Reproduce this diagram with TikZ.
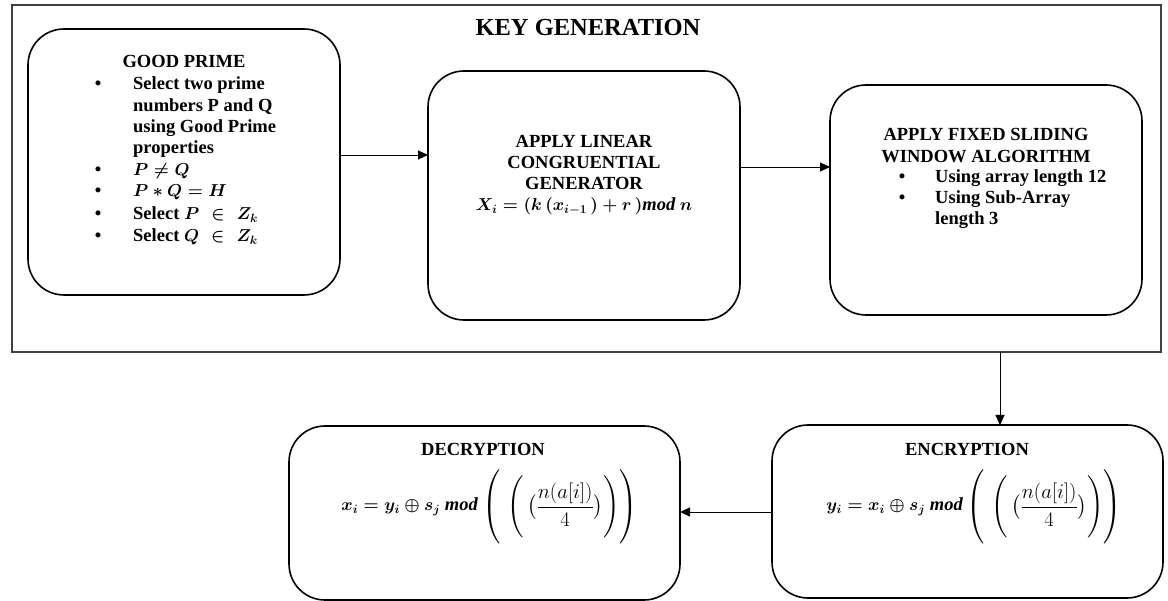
\documentclass[tikz,border=0pt]{standalone}
\usepackage{fontspec}
\usepackage{amsmath}
\setmainfont{Liberation Serif}
\usetikzlibrary{arrows.meta}
\begin{document}
\begin{tikzpicture}[x=1pt,y=-1pt,
  stepbox/.style={draw=black,line width=1.6pt,rounded corners=36pt},
  frame/.style={draw=black!75,line width=1.5pt},
  conn/.style={draw=black,line width=0.9pt,-{Triangle[length=10pt,width=9pt]}},
  txt/.style={font=\bfseries\boldmath\fontsize{18.5}{21.6}\selectfont,inner sep=0pt},
  plain/.style={font=\fontsize{21}{24}\selectfont,inner sep=0pt},
  ctr/.style={txt,anchor=base},
  lft/.style={txt,anchor=base west},
  ttl/.style={font=\bfseries\fontsize{24.5}{28}\selectfont,inner sep=0pt}
]
\useasboundingbox (0,0) rectangle (1168,601);
% outer frame
\draw[frame] (12,5) rectangle (1161,352);
\node[ttl] (title) at (588,28) {KEY GENERATION};
% boxes
\draw[stepbox] (28,29) rectangle (340,295);
\coordinate (gpE) at (341,155);
\draw[stepbox] (428,71) rectangle (740,320);
\coordinate (lcgW) at (428,155); \coordinate (lcgE) at (741,167);
\draw[stepbox] (830,85) rectangle (1142,315);
\coordinate (swaW) at (830,167);
\draw[stepbox] (772,425) rectangle (1163,598);
\coordinate (encN) at (1000,425); \coordinate (encW) at (772,512);
\draw[stepbox] (289,426) rectangle (680,600);
\coordinate (decE) at (680,512);
\coordinate (frameS) at (1000,352);
% good prime text
\node[ctr] (gph) at (184,68) {GOOD PRIME};
\node[ctr] (gb1) at (98,90) {\textbullet};
\node[lft] (gl1) at (133,90) {Select two prime};
\node[lft] (gl2) at (133,112) {numbers P and Q};
\node[lft] (gl3) at (133,133) {using Good Prime};
\node[lft] (gl4) at (133,154) {properties};
\node[ctr] (gb2) at (98,176) {\textbullet};
\node[lft] (gl5) at (133,176) {$P \neq Q$};
\node[ctr] (gb3) at (98,197) {\textbullet};
\node[lft] (gl6) at (133,197) {$P \ast Q = H$};
\node[ctr] (gb4) at (98,220) {\textbullet};
\node[lft] (gl7) at (133,220) {Select $P \mskip6mu\in\mskip6mu Z_k$};
\node[ctr] (gb5) at (98,242) {\textbullet};
\node[lft] (gl8) at (133,242) {Select $Q \mskip6mu\in\mskip6mu Z_k$};
% LCG text
\node[ctr] (lcg1) at (584,148) {APPLY LINEAR};
\node[ctr] (lcg2) at (584,169) {CONGRUENTIAL};
\node[ctr] (lcg3) at (584,190) {GENERATOR};
\node[ctr] (lcg4) at (584,211) {$X_i = (k\,(x_{i-1}\,) + r\,)\mathit{mod}\ n$};
% SWA text
\node[ctr] (sw1) at (986,141) {APPLY FIXED SLIDING};
\node[ctr] (sw2) at (986,163) {WINDOW ALGORITHM};
\node[ctr] (sb1) at (902,183) {\textbullet};
\node[lft] (sl1) at (935,183) {Using array length 12};
\node[ctr] (sb2) at (902,204) {\textbullet};
\node[lft] (sl2) at (935,204) {Using Sub-Array};
\node[lft] (sl3) at (935,225) {length 3};
% encryption
\node[ctr] (ench) at (967,456) {ENCRYPTION};
\node[txt,anchor=east] (encf) at (963,507) {$y_i = x_i \oplus s_j\ \mathit{mod}$};
\node[plain,anchor=west] (encp) at (966,507) {$\left(\rule[-29pt]{0pt}{58pt}\,\left(\rule[-25pt]{0pt}{50pt}\,\bigl(\dfrac{n(a[i])}{4}\bigr)\right)\right)$};
% decryption
\node[ctr] (dech) at (483,456) {DECRYPTION};
\node[txt,anchor=east] (decf) at (478,507) {$x_i = y_i \oplus s_j\ \mathit{mod}$};
\node[plain,anchor=west] (decp) at (482,507) {$\left(\rule[-29pt]{0pt}{58pt}\,\left(\rule[-25pt]{0pt}{50pt}\,\bigl(\dfrac{n(a[i])}{4}\bigr)\right)\right)$};
% connectors
\draw[conn] (gpE) -- (lcgW);
\draw[conn] (lcgE) -- (swaW);
\draw[conn] (frameS) -- (encN);
\draw[conn] (encW) -- (decE);
\end{tikzpicture}
\end{document}
